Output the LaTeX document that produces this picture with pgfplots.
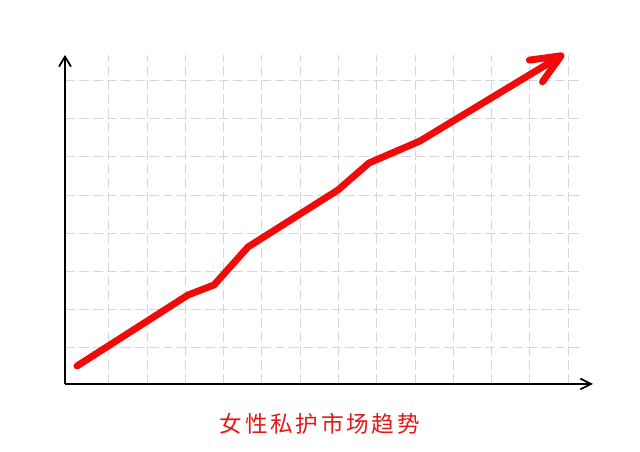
\documentclass[border=0pt]{standalone}
\usepackage{pgfplots}
\pgfplotsset{compat=1.18}
\usetikzlibrary{arrows.meta}
\usepackage{fontspec}
\newfontfamily\cjk{Noto Sans CJK SC}
\definecolor{gridgray}{RGB}{215,215,215}
\definecolor{trendred}{RGB}{240,10,10}
\definecolor{titlered}{RGB}{225,25,25}
\newcommand{\gap}{\hspace{2pt}}
\begin{document}
\begin{tikzpicture}
\begin{axis}[
    x=0.75pt, y=0.75pt,   % one data unit = one pixel of the 640x452 picture
    xmin=65, xmax=583,
    ymin=68, ymax=397,
    axis lines=left,
    axis line style={line width=1.3pt, black},
    x axis line style={-{Straight Barb[length=8pt,width=8pt]}, shorten >=-7.5pt},
    y axis line style={-{Straight Barb[length=7.5pt,width=9pt]}},
    xtick={109,147.25,...,569},
    ytick={104,142.2,...,372},
    xticklabels={}, yticklabels={},
    major tick length=0pt,
    grid=major,
    major grid style={draw=gridgray, line width=0.75pt, dash pattern=on 7.5pt off 3pt},
    clip=false,
]
\addplot[trendred, line width=5.2pt, line join=round, line cap=round,
    -{Straight Barb[length=22pt,width=19pt,line cap=round,line join=round]}]
  coordinates {
  (77,86) (188,157) (214,167) (248,205) (338,262) (369,289) (420,311) (564,398)};
\node[text=titlered, font=\cjk\fontsize{17}{20}\selectfont] at (axis cs:320,28)
  {女\gap 性\gap 私\gap 护\gap 市\gap 场\gap 趋\gap 势};
\path (axis cs:0,0) rectangle (axis cs:640,452);
\end{axis}
\end{tikzpicture}
\end{document}
